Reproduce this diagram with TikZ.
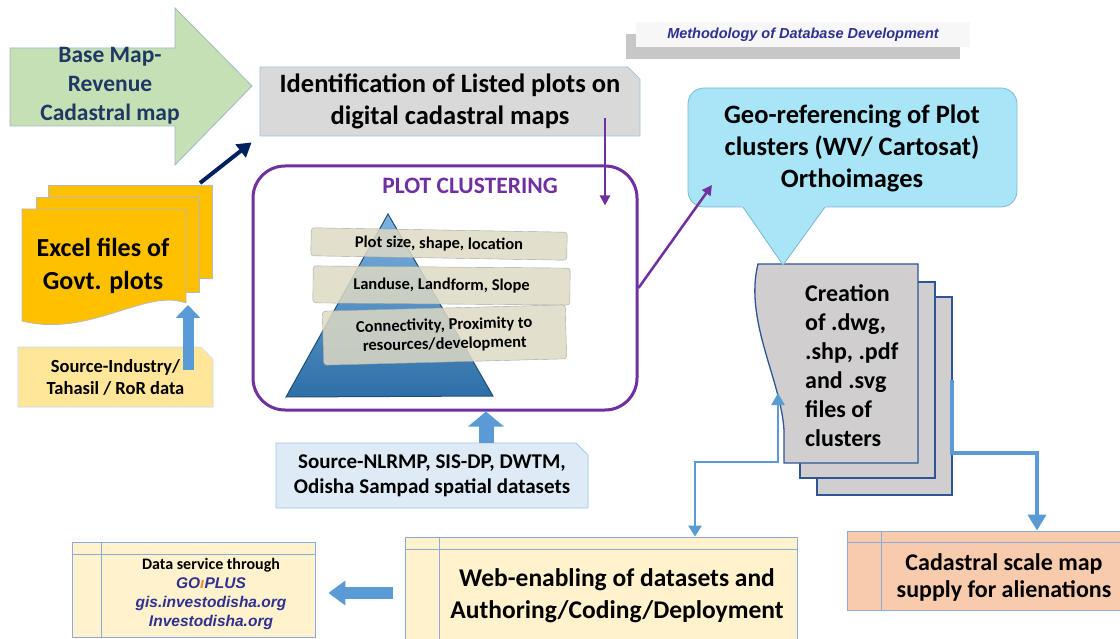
\documentclass[tikz,border=0pt]{standalone}
\usepackage{fontspec}
\setmainfont{Carlito}
\newfontfamily\arialfont{Liberation Sans}
\usetikzlibrary{positioning,arrows.meta,shapes.misc,shadows}

\definecolor{mapgreen}{HTML}{C5E0B4}
\definecolor{mapedge}{HTML}{9FB8CC}
\definecolor{mapnavy}{HTML}{1F3864}
\definecolor{identgray}{HTML}{D9D9D9}
\definecolor{softedge}{HTML}{9DC3E6}
\definecolor{geocyan}{HTML}{A8E6F7}
\definecolor{geoedge}{HTML}{7FB6D3}
\definecolor{clusterpurple}{HTML}{7030A0}
\definecolor{barfill}{HTML}{DDD9C3}
\definecolor{pyrlight}{HTML}{7DB3E0}
\definecolor{pyrdark}{HTML}{2E6FA8}
\definecolor{pyredge}{HTML}{1F4E79}
\definecolor{excelgold}{HTML}{FFC000}
\definecolor{srcyellow}{HTML}{FFE699}
\definecolor{srcblue}{HTML}{DEEBF7}
\definecolor{arrblue}{HTML}{5B9BD5}
\definecolor{pagegray}{HTML}{D0CECE}
\definecolor{pageedge}{HTML}{2F5597}
\definecolor{cream}{HTML}{FFF2CC}
\definecolor{salmon}{HTML}{F8CBAD}
\definecolor{tabedge}{HTML}{8FAADC}
\definecolor{linkblue}{HTML}{2E3192}
\definecolor{goorange}{HTML}{F08A24}
\definecolor{darkarrow}{HTML}{002060}

\newcommand\linkfont{\arialfont\bfseries\itshape\fontsize{15.5}{19}\selectfont\color{linkblue}}

\begin{document}
\begin{tikzpicture}[x=1pt, y=-1pt]
  \tikzstyle{lbl} = [align=center, inner sep=0pt, font=\bfseries]
  \tikzstyle{snipbox} = [chamfered rectangle, chamfered rectangle corners=north east, chamfered rectangle xsep=9pt, inner sep=0pt, align=center]
  \tikzstyle{tabbox} = [rectangle, draw=tabedge, line width=0.8pt, inner sep=0pt]
  \tikzstyle{tabline} = [tabedge, line width=0.8pt]
  \tikzstyle{bar} = [rectangle, rounded corners=3pt, draw=gray!70, fill=barfill, fill opacity=0.85, text opacity=1, inner sep=0pt, align=center, font=\bfseries\fontsize{16.5}{19}\selectfont]
  \tikzstyle{xlpage} = [fill=excelgold, draw=gray!55, line width=0.8pt]
  \tikzstyle{docpage} = [fill=pagegray, draw=pageedge, line width=1.3pt]
  \tikzstyle{purplearr} = [clusterpurple, line width=2.5pt, -{Triangle[length=10pt,width=10pt]}]

  \useasboundingbox (0,0) rectangle (1120,639);

  % input map
  \draw[fill=mapgreen, draw=mapedge, line width=0.8pt] (10,48) -- (175,48) -- (175,8) -- (252,86) -- (175,165) -- (175,126) -- (10,126) -- cycle;
  \node[lbl, text=mapnavy, font=\bfseries\fontsize{23.5}{29}\selectfont] (basemap) at (110,86) {Base Map-\\Revenue\\Cadastral map};

  \node[snipbox, fill=identgray, draw=softedge, line width=0.8pt, minimum width=380pt, minimum height=69pt, font=\bfseries\fontsize{26.5}{32}\selectfont] (ident) at (450,101.5) {Identification of Listed plots on\\digital cadastral maps};

  \node[fill=gray!6, minimum width=334pt, minimum height=25pt, drop shadow={shadow xshift=-10pt, shadow yshift=-12pt, fill=black, opacity=0.22}, text=linkblue, font=\arialfont\bfseries\itshape\fontsize{14.5}{16}\selectfont] (title) at (803,35) {Methodology of Database Development};

  % excel files
  \draw[xlpage] (48,185) rectangle (212,278);
  \draw[xlpage] (36,197) rectangle (199,292);
  \draw[xlpage] (22,209) -- (186,209) -- (186,303) .. controls (145,288) and (90,338) .. (22,321) -- cycle;
  \node[lbl, font=\bfseries\fontsize{26}{33}\selectfont] (excel) at (103,266) {Excel files of\\Govt. plots};
  \coordinate (xlcorner) at (200,183);
  \coordinate (xlfoot) at (188,305);

  \node[snipbox, fill=srcyellow, draw=softedge!60, line width=0.6pt, minimum width=195pt, minimum height=60pt, font=\bfseries\fontsize{18.5}{22}\selectfont] (srcind) at (115.5,377) {Source-Industry/\\Tahasil / RoR data};

  \draw[darkarrow, line width=4pt, -{Triangle[length=14pt,width=16pt]}] (xlcorner) -- ([xshift=-8pt,yshift=-6pt]ident.south west);
  \draw[arrblue, line width=11pt, -{Triangle[length=13pt,width=24pt]}] ([xshift=72.5pt,yshift=-23pt]srcind.north) -- (xlfoot);

  % clustering
  \node[draw=clusterpurple, line width=3pt, rounded corners=32pt, minimum width=384pt, minimum height=244pt] (cluster) at (445,288) {};
  \node[lbl, text=clusterpurple, font=\bfseries\fontsize{23.5}{26}\selectfont] (clustitle) at (470,186) {PLOT CLUSTERING};
  \shade[top color=pyrlight, bottom color=pyrdark, draw=pyredge, line width=1pt] (388,214) -- (493,396) -- (286,397) -- cycle;
  \node[bar, minimum width=256pt, minimum height=28pt, rotate=-1] (size) at (439,244) {Plot size, shape, location};
  \node[bar, minimum width=257pt, minimum height=37pt, rotate=-0.5] (landuse) at (441.5,285.5) {Landuse, Landform, Slope};
  \node[bar, minimum width=243pt, minimum height=54pt, rotate=1.5] (connect) at (444.5,335) {Connectivity, Proximity to\\resources/development};

  \node[snipbox, fill=srcblue, draw=softedge, line width=0.8pt, minimum width=312pt, minimum height=65pt, font=\bfseries\fontsize{21}{25}\selectfont] (nlrmp) at (432,475.5) {Source-NLRMP, SIS-DP, DWTM,\\Odisha Sampad spatial datasets};
  \draw[arrblue, line width=15pt, -{Triangle[length=15pt,width=35pt]}] ([xshift=54pt]nlrmp.north) -- ([xshift=41pt]cluster.south);

  % geo-referencing
  \draw[docpage] (817,297) rectangle (952,495);
  \draw[docpage] (800,282) rectangle (935,478);
  \draw[docpage] (758,264) .. controls (744,320) and (781,380) .. (784,430) -- (784,463) -- (918,463) -- (918,264) -- cycle;
  \node[align=left, inner sep=0pt, anchor=west, font=\bfseries\fontsize{24}{29}\selectfont] (creation) at (805,366) {Creation\\of .dwg,\\.shp, .pdf\\and .svg\\files of\\clusters};
  \coordinate (crtback) at (952,380);
  \coordinate (crtleft) at (778,393);

  \draw[fill=geocyan, draw=geoedge, line width=0.8pt, rounded corners=16pt] (688,88) rectangle (1017,207);
  \fill[geocyan] (741,205) -- (783,265) -- (827,205) -- cycle;
  \draw[geoedge, line width=0.8pt] (743,207) -- (783,265) -- (825,207);
  \node[lbl, font=\bfseries\fontsize{26.5}{32}\selectfont] (geo) at (852,148) {Geo-referencing of Plot\\clusters (WV/ Cartosat)\\Orthoimages};
  \coordinate (geoin) at (712,185);

  \draw[purplearr] ([xshift=155pt,yshift=-16.5pt]ident.center) -- ([xshift=160pt,yshift=-41pt]cluster.north);
  \draw[purplearr] (cluster.east) -- (geoin);

  % outputs
  \node[tabbox, fill=cream, minimum width=392pt, minimum height=115pt] (web) at (601,594.5) {};
  \draw[tabline] ([xshift=35pt]web.north west) -- ([xshift=35pt]web.south west);
  \draw[tabline] ([yshift=-13pt]web.north west) -- ([yshift=-13pt]web.north east);
  \node[lbl, font=\bfseries\fontsize{25.5}{32}\selectfont] (webtxt) at (617,596) {Web-enabling of datasets and\\Authoring/Coding/Deployment};

  \node[tabbox, fill=cream, minimum width=243pt, minimum height=95pt] (data) at (193.5,589.5) {};
  \draw[tabline] ([xshift=30pt]data.north west) -- ([xshift=30pt]data.south west);
  \draw[tabline] ([yshift=-13pt]data.north west) -- ([yshift=-13pt]data.north east);
  \node[lbl, font=\bfseries\fontsize{16}{19}\selectfont] (datatxt) at (211,594) {Data service through\\{\linkfont GO\textcolor{goorange}{ı}PLUS}\\{\linkfont gis.investodisha.org}\\{\linkfont Investodisha.org}};

  \node[tabbox, fill=salmon, minimum width=280pt, minimum height=79pt] (cadastral) at (987,570.5) {};
  \draw[tabline] ([xshift=35pt]cadastral.north west) -- ([xshift=35pt]cadastral.south west);
  \draw[tabline] ([yshift=-12pt]cadastral.north west) -- ([yshift=-12pt]cadastral.north east);
  \node[lbl, font=\bfseries\fontsize{24}{27}\selectfont] (cadtxt) at (1004,577) {Cadastral scale map\\supply for alienations};

  \draw[arrblue, line width=12pt, -{Triangle[length=17pt,width=24pt]}] ([xshift=-12pt,yshift=1.5pt]web.west) -- ([xshift=13pt,yshift=-3.5pt]data.east);
  \draw[arrblue, line width=4.5pt, -{Triangle[length=16pt,width=18pt]}] (crtback) -- (952,453) -| ([xshift=50pt]cadastral.north);
  \draw[arrblue, line width=2.5pt, {Triangle[length=11pt,width=13pt]}-{Triangle[length=12pt,width=13pt]}] ([xshift=94pt]web.north) |- (778,462) -- (crtleft);
\end{tikzpicture}
\end{document}
